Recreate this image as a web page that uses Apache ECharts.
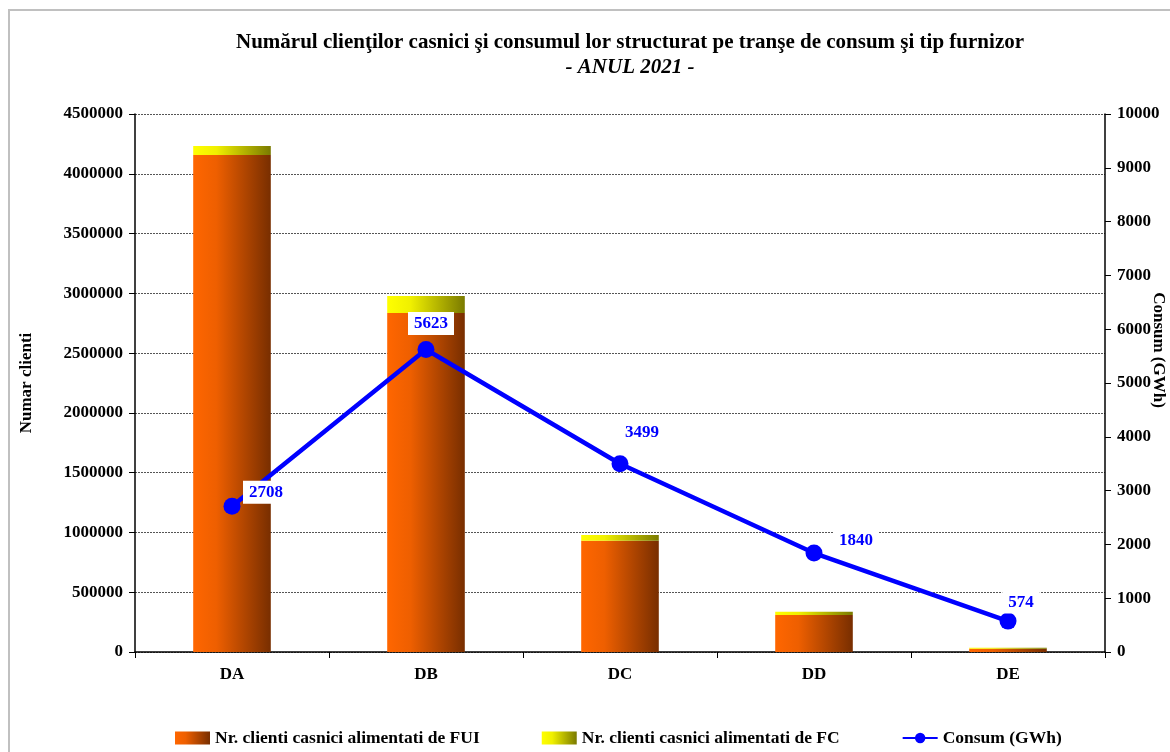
<!DOCTYPE html>
<html><head><meta charset="utf-8">
<script src="https://cdn.jsdelivr.net/npm/echarts@6/dist/echarts.min.js"></script>
<style>html,body{margin:0;padding:0;background:#fff}#c{width:1170px;height:752px}</style>
</head><body><div id="c"></div>
<script>
const categories = ['DA','DB','DC','DD','DE'];
const clientiFUI = [4157000, 2835000, 931000, 309000, 28000];
const clientiFC = [75000, 143000, 48000, 28000, 8000];
const consum = [2708, 5623, 3499, 1840, 574];
const labelOffsets = [[34,11],[5,-1],[22,-6],[42,13],[13,6]];

const F = '"Liberation Serif","Times New Roman",serif';
const chart = echarts.init(document.getElementById('c'));
const orangeGrad = new echarts.graphic.LinearGradient(0,0,1,0,[{offset:0,color:'#FF6600'},{offset:0.3,color:'#EE5F00'},{offset:1,color:'#782E00'}]);
const yellowGrad = new echarts.graphic.LinearGradient(0,0,1,0,[{offset:0,color:'#FFFF00'},{offset:0.3,color:'#F0F000'},{offset:1,color:'#7A7A00'}]);
const plain = v => String(v);
chart.setOption({
  animation:false,
  backgroundColor:'#fff',
  graphic:[{type:'rect',shape:{x:9,y:10,width:1200,height:800},style:{fill:'none',stroke:'#c0c0c0',lineWidth:2},silent:true}],
  title:{
    text:'Numărul clienţilor casnici şi consumul lor structurat pe tranşe de consum şi tip furnizor',
    subtext:'- ANUL 2021 -',
    left:625, top:27, textAlign:'center', itemGap:4,
    textStyle:{fontFamily:F,fontWeight:'bold',fontSize:21,color:'#000'},
    subtextStyle:{fontFamily:F,fontWeight:'bold',fontStyle:'italic',fontSize:21,color:'#000'}
  },
  legend:{
    bottom:0, left:170, itemWidth:35, itemHeight:13, itemGap:62,
    textStyle:{fontFamily:F,fontWeight:'bold',fontSize:17.5,color:'#000'},
    data:[
      {name:'Nr. clienti casnici alimentati de FUI',icon:'rect'},
      {name:'Nr. clienti casnici alimentati de FC',icon:'rect'},
      {name:'Consum (GWh)'}
    ]
  },
  grid:{left:135,right:65,top:114,bottom:100,containLabel:false,outerBoundsMode:'none'},
  xAxis:{
    type:'category', data:categories,
    axisLine:{lineStyle:{color:'#000',width:1.5}},
    axisTick:{show:true,length:6,lineStyle:{color:'#000'}},
    axisLabel:{fontFamily:F,fontWeight:'bold',fontSize:17,color:'#000',margin:14}
  },
  yAxis:[{
    type:'value', min:0, max:4500000, interval:500000,
    name:'Numar clienti', nameLocation:'middle', nameRotate:90, nameGap:100, nameMoveOverlap:false,
    nameTextStyle:{fontFamily:F,fontWeight:'bold',fontSize:17,color:'#000'},
    axisLine:{show:true,lineStyle:{color:'#000',width:1.5}},
    axisTick:{show:true,length:6,lineStyle:{color:'#000'}},
    axisLabel:{fontFamily:F,fontWeight:'bold',fontSize:17,color:'#000',margin:12,formatter:plain},
    splitLine:{show:true,lineStyle:{color:'#555',type:[2,1],width:1}}
  },{
    type:'value', min:0, max:10000, interval:1000, position:'right',
    name:'Consum (GWh)', nameLocation:'middle', nameRotate:-90, nameGap:45, nameMoveOverlap:false,
    nameTextStyle:{fontFamily:F,fontWeight:'bold',fontSize:17,color:'#000',padding:[0,66,0,0]},
    axisLine:{show:true,lineStyle:{color:'#000',width:1.5}},
    axisTick:{show:true,length:6,lineStyle:{color:'#000'}},
    axisLabel:{fontFamily:F,fontWeight:'bold',fontSize:17,color:'#000',margin:12,formatter:plain},
    splitLine:{show:false}
  }],
  series:[
    {name:'Nr. clienti casnici alimentati de FUI',type:'bar',stack:'a',barWidth:'40%',
     data:clientiFUI,itemStyle:{color:orangeGrad}},
    {name:'Nr. clienti casnici alimentati de FC',type:'bar',stack:'a',barWidth:'40%',
     data:clientiFC,itemStyle:{color:yellowGrad}},
    {name:'Consum (GWh)',type:'line',yAxisIndex:1,data:consum.map((v,i)=>({value:v,label:{offset:labelOffsets[i]}})),
     symbol:'circle',symbolSize:17,lineStyle:{color:'#0000FF',width:4.5},itemStyle:{color:'#0000FF'},
     label:{show:true,position:'top',fontFamily:F,fontWeight:'bold',fontSize:17,color:'#0000FF',
       backgroundColor:'#fff',padding:[3,6]},
     z:5}
  ]
});
</script></body></html>
